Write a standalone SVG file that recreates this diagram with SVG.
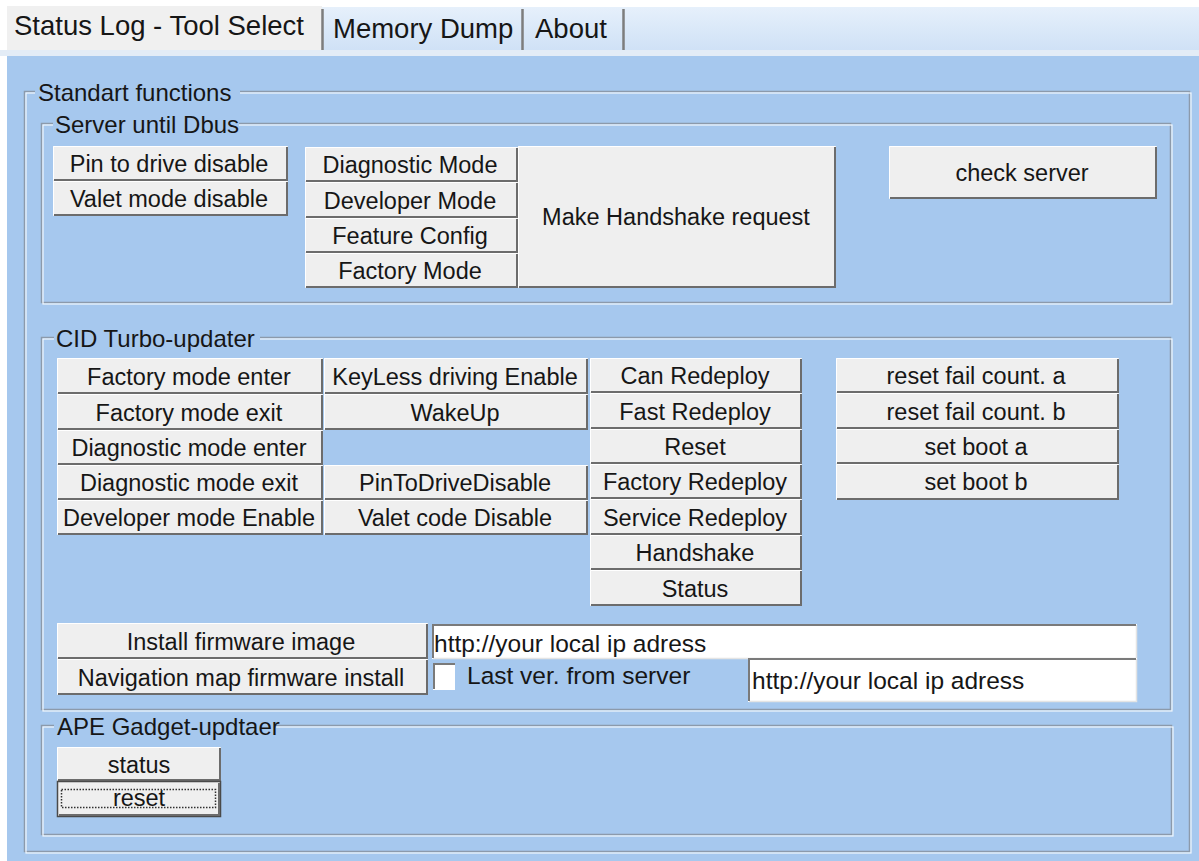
<svg xmlns="http://www.w3.org/2000/svg" width="1199" height="861" viewBox="0 0 1199 861">
<defs>
<linearGradient id="tabg" x1="0" y1="0" x2="0" y2="1"><stop offset="0" stop-color="#e6f0fb"/><stop offset="1" stop-color="#cfe1f6"/></linearGradient>
<style>
text{font-family:"Liberation Sans",Arial,sans-serif;fill:#161616}
.t{font-size:23.5px;text-anchor:middle}
.lbl{font-size:24px}
.tab{font-size:27.5px}
.in{font-size:24.5px}
.bf{fill:#efefef}
.hl{fill:none;stroke:#ffffff;stroke-width:1}
.sd{fill:none;stroke:#6c6c6c;stroke-width:2}
.e1{fill:none;stroke:#8c9aab;stroke-width:1.5}
.e2{fill:none;stroke:#f2f7fc;stroke-width:1.2}
.lb{fill:#a6c8ee}
.fld{fill:#ffffff}
.fb{fill:none;stroke:#7a7a7a;stroke-width:2}
.fl{fill:none;stroke:#e4e4e4;stroke-width:1.5}
.sep{stroke:#7d7d7d;stroke-width:2.5}
</style>
</defs>
<rect x="0" y="0" width="1199" height="861" fill="#ffffff"/>
<!-- tab strip -->
<g id="tabs">
<rect x="7" y="7" width="1192" height="44" fill="url(#tabg)"/>
<rect x="7" y="6" width="315" height="45" fill="#f0f0f0"/>
<rect x="0" y="50" width="1199" height="6" fill="#e3ecf6"/>
<line class="sep" x1="322.5" y1="9" x2="322.5" y2="50"/>
<line class="sep" x1="522.5" y1="9" x2="522.5" y2="50"/>
<line class="sep" x1="623.5" y1="9" x2="623.5" y2="50"/>
<text class="tab" x="14" y="35">Status Log - Tool Select</text>
<text class="tab" x="333" y="38">Memory Dump</text>
<text class="tab" x="535" y="38">About</text>
</g>
<rect x="7" y="56" width="1192" height="805" fill="#a6c8ee"/>
<!-- group frames -->
<g id="grp-standart">
<rect class="e1" x="24.5" y="91.5" width="1165" height="760"/>
<rect class="e2" x="26" y="93" width="1165" height="760"/>
<rect class="lb" x="35" y="80" width="205" height="26"/>
<text class="lbl" x="38" y="101">Standart functions</text>
</g>
<g id="grp-server">
<rect class="e1" x="41.5" y="123.5" width="1129" height="179"/>
<rect class="e2" x="43" y="125" width="1129" height="179"/>
<rect class="lb" x="53" y="112" width="186" height="26"/>
<text class="lbl" x="55" y="133">Server until Dbus</text>
</g>
<g id="grp-cid">
<rect class="e1" x="41.5" y="337.5" width="1129" height="372"/>
<rect class="e2" x="43" y="339" width="1129" height="372"/>
<rect class="lb" x="54" y="326" width="206" height="26"/>
<text class="lbl" x="56" y="347">CID Turbo-updater</text>
</g>
<g id="grp-ape">
<rect class="e1" x="41.5" y="725.5" width="1130" height="109"/>
<rect class="e2" x="43" y="727" width="1130" height="109"/>
<rect class="lb" x="54" y="714" width="222" height="26"/>
<text class="lbl" x="57" y="735">APE Gadget-updtaer</text>
</g>
<!-- Server until Dbus buttons -->
<g id="btn-pin"><rect class="bf" x="53" y="146" width="235" height="35"/><path class="hl" d="M53.5 180V146.5H287"/><path class="sd" d="M54 180H287V147"/><text class="t" x="169" y="172">Pin to drive disable</text></g>
<g id="btn-valet"><rect class="bf" x="53" y="181" width="235" height="35"/><path class="hl" d="M53.5 215V181.5H287"/><path class="sd" d="M54 215H287V182"/><text class="t" x="169" y="207">Valet mode disable</text></g>
<g id="btn-diag"><rect class="bf" x="305" y="147" width="213" height="35"/><path class="hl" d="M305.5 181V147.5H517"/><path class="sd" d="M306 181H517V148"/><text class="t" x="410" y="173">Diagnostic Mode</text></g>
<g id="btn-dev"><rect class="bf" x="305" y="182" width="213" height="36"/><path class="hl" d="M305.5 217V182.5H517"/><path class="sd" d="M306 217H517V183"/><text class="t" x="410" y="208.5">Developer Mode</text></g>
<g id="btn-feat"><rect class="bf" x="305" y="218" width="213" height="35"/><path class="hl" d="M305.5 252V218.5H517"/><path class="sd" d="M306 252H517V219"/><text class="t" x="410" y="244">Feature Config</text></g>
<g id="btn-factmode"><rect class="bf" x="305" y="253" width="213" height="35"/><path class="hl" d="M305.5 287V253.5H517"/><path class="sd" d="M306 287H517V254"/><text class="t" x="410" y="279">Factory Mode</text></g>
<g id="btn-handshake-req"><rect class="bf" x="518" y="146" width="318" height="142"/><path class="hl" d="M518.5 287V146.5H835"/><path class="sd" d="M519 287H835V147"/><text class="t" x="676" y="225">Make Handshake request</text></g>
<g id="btn-check"><rect class="bf" x="889" y="146" width="268" height="53"/><path class="hl" d="M889.5 198V146.5H1156"/><path class="sd" d="M890 198H1156V147"/><text class="t" x="1022" y="181">check server</text></g>
<!-- CID column 1 -->
<g id="btn-fme"><rect class="bf" x="57" y="358" width="266" height="36"/><path class="hl" d="M57.5 393V358.5H322"/><path class="sd" d="M58 393H322V359"/><text class="t" x="189" y="384.5">Factory mode enter</text></g>
<g id="btn-fmx"><rect class="bf" x="57" y="394" width="266" height="36"/><path class="hl" d="M57.5 429V394.5H322"/><path class="sd" d="M58 429H322V395"/><text class="t" x="189" y="420.5">Factory mode exit</text></g>
<g id="btn-dme"><rect class="bf" x="57" y="430" width="266" height="35"/><path class="hl" d="M57.5 464V430.5H322"/><path class="sd" d="M58 464H322V431"/><text class="t" x="189" y="456">Diagnostic mode enter</text></g>
<g id="btn-dmx"><rect class="bf" x="57" y="465" width="266" height="35"/><path class="hl" d="M57.5 499V465.5H322"/><path class="sd" d="M58 499H322V466"/><text class="t" x="189" y="491">Diagnostic mode exit</text></g>
<g id="btn-dev-en"><rect class="bf" x="57" y="500" width="266" height="35"/><path class="hl" d="M57.5 534V500.5H322"/><path class="sd" d="M58 534H322V501"/><text class="t" x="189" y="526">Developer mode Enable</text></g>
<!-- CID column 2 -->
<g id="btn-keyless"><rect class="bf" x="324" y="358" width="264" height="36"/><path class="hl" d="M324.5 393V358.5H587"/><path class="sd" d="M325 393H587V359"/><text class="t" x="455" y="384.5">KeyLess driving Enable</text></g>
<g id="btn-wakeup"><rect class="bf" x="324" y="394" width="264" height="36"/><path class="hl" d="M324.5 429V394.5H587"/><path class="sd" d="M325 429H587V395"/><text class="t" x="455" y="420.5">WakeUp</text></g>
<g id="btn-pintodrive"><rect class="bf" x="324" y="465" width="264" height="35"/><path class="hl" d="M324.5 499V465.5H587"/><path class="sd" d="M325 499H587V466"/><text class="t" x="455" y="491">PinToDriveDisable</text></g>
<g id="btn-valetcode"><rect class="bf" x="324" y="500" width="264" height="35"/><path class="hl" d="M324.5 534V500.5H587"/><path class="sd" d="M325 534H587V501"/><text class="t" x="455" y="526">Valet code Disable</text></g>
<!-- CID column 3 -->
<g id="btn-can"><rect class="bf" x="590" y="358" width="212" height="35"/><path class="hl" d="M590.5 392V358.5H801"/><path class="sd" d="M591 392H801V359"/><text class="t" x="695" y="384">Can Redeploy</text></g>
<g id="btn-fast"><rect class="bf" x="590" y="393" width="212" height="36"/><path class="hl" d="M590.5 428V393.5H801"/><path class="sd" d="M591 428H801V394"/><text class="t" x="695" y="419.5">Fast Redeploy</text></g>
<g id="btn-reset"><rect class="bf" x="590" y="429" width="212" height="35"/><path class="hl" d="M590.5 463V429.5H801"/><path class="sd" d="M591 463H801V430"/><text class="t" x="695" y="455">Reset</text></g>
<g id="btn-factred"><rect class="bf" x="590" y="464" width="212" height="35"/><path class="hl" d="M590.5 498V464.5H801"/><path class="sd" d="M591 498H801V465"/><text class="t" x="695" y="490">Factory Redeploy</text></g>
<g id="btn-servred"><rect class="bf" x="590" y="499" width="212" height="36"/><path class="hl" d="M590.5 534V499.5H801"/><path class="sd" d="M591 534H801V500"/><text class="t" x="695" y="525.5">Service Redeploy</text></g>
<g id="btn-handshake"><rect class="bf" x="590" y="535" width="212" height="35"/><path class="hl" d="M590.5 569V535.5H801"/><path class="sd" d="M591 569H801V536"/><text class="t" x="695" y="561">Handshake</text></g>
<g id="btn-status"><rect class="bf" x="590" y="570" width="212" height="36"/><path class="hl" d="M590.5 605V570.5H801"/><path class="sd" d="M591 605H801V571"/><text class="t" x="695" y="596.5">Status</text></g>
<!-- CID column 4 -->
<g id="btn-rfa"><rect class="bf" x="836" y="358" width="283" height="35"/><path class="hl" d="M836.5 392V358.5H1118"/><path class="sd" d="M837 392H1118V359"/><text class="t" x="976" y="384">reset fail count. a</text></g>
<g id="btn-rfb"><rect class="bf" x="836" y="393" width="283" height="36"/><path class="hl" d="M836.5 428V393.5H1118"/><path class="sd" d="M837 428H1118V394"/><text class="t" x="976" y="419.5">reset fail count. b</text></g>
<g id="btn-sba"><rect class="bf" x="836" y="429" width="283" height="35"/><path class="hl" d="M836.5 463V429.5H1118"/><path class="sd" d="M837 463H1118V430"/><text class="t" x="976" y="455">set boot a</text></g>
<g id="btn-sbb"><rect class="bf" x="836" y="464" width="283" height="36"/><path class="hl" d="M836.5 499V464.5H1118"/><path class="sd" d="M837 499H1118V465"/><text class="t" x="976" y="490">set boot b</text></g>
<!-- firmware row -->
<g id="btn-install"><rect class="bf" x="57" y="623" width="371" height="36"/><path class="hl" d="M57.5 658V623.5H427"/><path class="sd" d="M58 658H427V624"/><text class="t" x="241" y="649.5">Install firmware image</text></g>
<g id="btn-nav"><rect class="bf" x="57" y="659" width="371" height="36"/><path class="hl" d="M57.5 694V659.5H427"/><path class="sd" d="M58 694H427V660"/><text class="t" x="241" y="685.5">Navigation map firmware install</text></g>
<g id="field-url1"><rect class="fld" x="432" y="624" width="705" height="35"/><path class="fl" d="M433 658.5H1136.5V625"/><path class="fb" d="M433 658V625H1136"/><text class="in" x="434" y="652">http://your local ip adress</text></g>
<g id="chk-last"><rect class="fld" x="433" y="663" width="22" height="27"/><path class="fb" d="M434 689V664H455"/><text class="in" x="467" y="684">Last ver. from server</text></g>
<g id="field-url2"><rect class="fld" x="748" y="658" width="389" height="44"/><path class="fl" d="M749 701.5H1136.5V659"/><path class="fb" d="M749 701V659H1136"/><text class="in" x="752" y="689">http://your local ip adress</text></g>
<!-- APE buttons -->
<g id="btn-ape-status"><rect class="bf" x="57" y="747" width="164" height="34"/><path class="hl" d="M57.5 780V747.5H220"/><path class="sd" d="M58 780H220V748"/><text class="t" x="139" y="772.5">status</text></g>
<g id="btn-ape-reset"><rect class="bf" x="57" y="781" width="164" height="36"/><rect x="57.5" y="781.5" width="163" height="35" fill="none" stroke="#4a4a4a" stroke-width="1.5"/><path class="sd" d="M59 815H219V783"/><text class="t" x="139" y="806">reset</text><rect x="61.5" y="789.5" width="154" height="18" fill="none" stroke="#303030" stroke-width="1.5" stroke-dasharray="1.5 1.5"/></g>
<g id="connectors"></g>
</svg>
